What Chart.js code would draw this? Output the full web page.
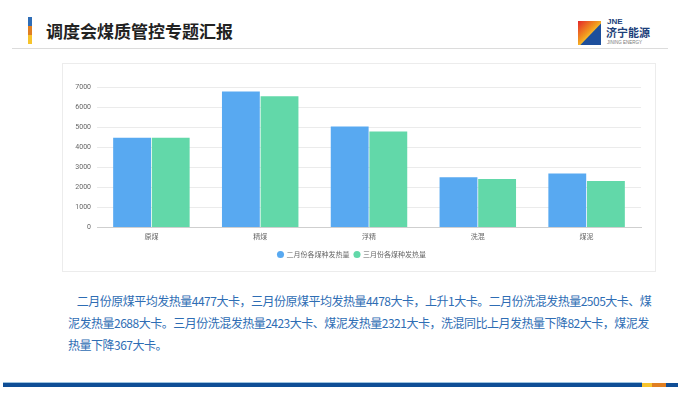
<!DOCTYPE html>
<html>
<head>
<meta charset="utf-8">
<script src="https://cdn.jsdelivr.net/npm/chart.js@4"></script>
<style>
  body { margin: 0; width: 682px; height: 399px; background: #fff; position: relative; overflow: hidden;
         font-family: "Noto Sans CJK SC", "Noto Sans", sans-serif; }
  .accent { position: absolute; left: 28px; top: 17px; width: 4px; height: 27px;
            background: linear-gradient(#2f6db6 0 33%, #e07f22 33% 66%, #f7c42c 66% 100%); }
  .title { position: absolute; left: 46px; top: 18px; font-size: 17px; font-weight: bold; color: #222; line-height: 26px; }
  .hline { position: absolute; left: 12px; top: 48px; width: 656px; height: 1px; background: #dcdcdc; }
  .logo-mark { position: absolute; left: 578px; top: 21px; width: 23px; height: 24px;
               background: linear-gradient(135deg, #e4262a 0%, #f29a1e 45%, #fbd33a 65%, #fff 66%); }
  .logo-mark::after { content: ""; position: absolute; right: 0; bottom: 0; width: 100%; height: 100%;
               background: #1d4f9c; clip-path: polygon(100% 10%, 100% 100%, 10% 100%); }
  .logo-jne { position: absolute; left: 607px; top: 17px; font: bold 8px "Liberation Sans", sans-serif; color: #1d3f7a; }
  .logo-cn { position: absolute; left: 606px; top: 26px; font-size: 11px; font-weight: bold; color: #1d3f7a; line-height: 13px; }
  .logo-en { position: absolute; left: 607px; top: 40px; font: 4.5px "Liberation Sans", sans-serif; color: #777; }
  .card { position: absolute; left: 62px; top: 63px; width: 592px; height: 207px; border: 1px solid #ececec; }
  .card canvas { position: absolute; left: 0; top: 0; }
  .para { position: absolute; left: 68px; top: 290px; font-size: 12px; color: #2e6db4; line-height: 22px;
          white-space: nowrap; letter-spacing: -0.5px; }
  .bar { position: absolute; left: 3px; top: 383px; width: 639px; height: 4px; background: #0f4e96; }
  .bar-light { position: absolute; left: 3px; top: 382px; width: 639px; height: 1px; background: #9cc3e0; }
  .b1 { position: absolute; left: 642px; top: 383px; width: 10px; height: 4px; background: #f7c42c; }
  .b2 { position: absolute; left: 652px; top: 383px; width: 14px; height: 4px; background: #e07f22; }
  .b3 { position: absolute; left: 666px; top: 383px; width: 12px; height: 4px; background: #0f4e96; }
</style>
</head>
<body>
<div class="accent"></div>
<div class="title">调度会煤质管控专题汇报</div>
<div class="hline"></div>
<div class="logo-mark"></div>
<div class="logo-jne">JNE</div>
<div class="logo-cn">济宁能源</div>
<div class="logo-en">JINING ENERGY</div>

<div class="card"><canvas id="chart" width="592" height="207"></canvas></div>

<div class="para">&nbsp;&nbsp;&nbsp;&nbsp;二月份原煤平均发热量4477大卡，三月份原煤平均发热量4478大卡，上升1大卡。二月份洗混发热量2505大卡、煤<br>泥发热量2688大卡。三月份洗混发热量2423大卡、煤泥发热量2321大卡，洗混同比上月发热量下降82大卡，煤泥发<br>热量下降367大卡。</div>

<div class="bar-light"></div>
<div class="bar"></div>
<div class="b1"></div><div class="b2"></div><div class="b3"></div>

<script>
// 数据
const categories = ['原煤', '精煤', '浮精', '洗混', '煤泥'];
const febValues = [4477, 6770, 5030, 2505, 2688];
const marValues = [4478, 6540, 4785, 2423, 2321];
const seriesNames = ['二月份各煤种发热量', '三月份各煤种发热量'];
const yTicks = [0, 1000, 2000, 3000, 4000, 5000, 6000, 7000];

const ctx = document.getElementById('chart');
new Chart(ctx, {
    type: 'bar',
    data: {
        labels: categories,
        datasets: [
            { label: seriesNames[0], data: febValues, backgroundColor: '#58a9f1' },
            { label: seriesNames[1], data: marValues, backgroundColor: '#62d8a9' }
        ]
    },
    options: {
        responsive: false,
        animation: false,
        categoryPercentage: 0.71,
        barPercentage: 0.98,
        layout: { padding: { left: 0, right: 14, top: 23, bottom: 3 } },
        plugins: {
            legend: {
                position: 'bottom',
                labels: {
                    usePointStyle: true,
                    pointStyle: 'circle',
                    boxWidth: 5,
                    boxHeight: 5,
                    padding: 5,
                    color: '#666',
                    font: { size: 7, family: '"Noto Sans CJK SC", sans-serif' }
                }
            },
            tooltip: { enabled: false }
        },
        scales: {
            x: {
                grid: { display: false, drawTicks: false },
                border: { color: '#cfcfcf' },
                ticks: { color: '#666', padding: 5, font: { size: 7, family: '"Noto Sans CJK SC", sans-serif' } }
            },
            y: {
                min: yTicks[0],
                max: yTicks[yTicks.length - 1],
                afterFit: scale => { scale.width = 34; },
                afterBuildTicks: scale => { scale.ticks = yTicks.map(v => ({ value: v })); },
                border: { display: false },
                grid: { color: '#ebebeb', drawTicks: false },
                ticks: { color: '#666', padding: 6, callback: v => String(v), font: { size: 7, family: 'Roboto, sans-serif' } }
            }
        }
    }
});
</script>
</body>
</html>
